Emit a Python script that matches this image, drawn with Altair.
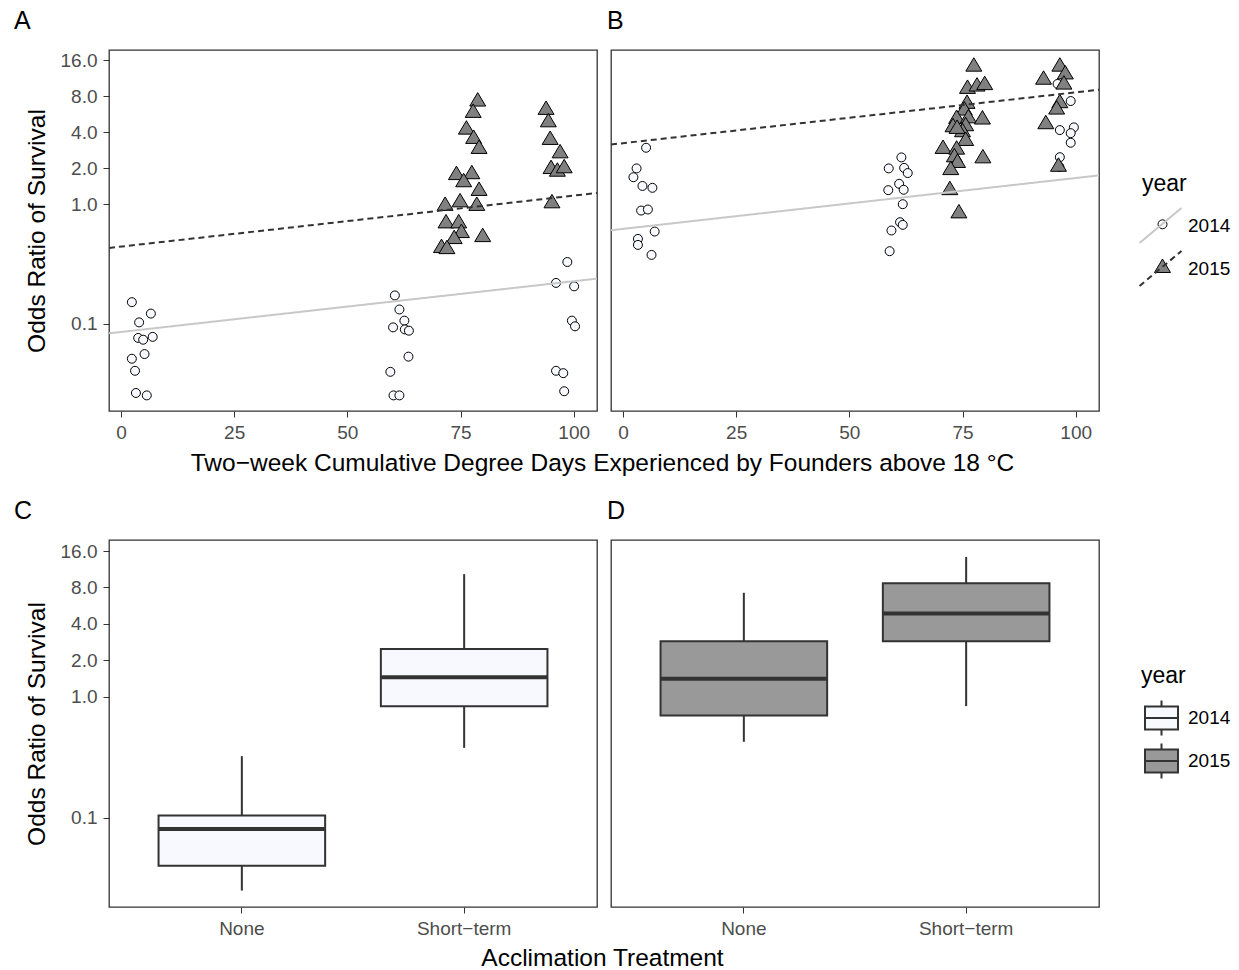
import altair as alt
import pandas as pd

FONT = "Liberation Sans"

# ---------------- Panel A (scatter) ----------------
a14_x = [2.4, 6.6, 4.0, 3.8, 4.9, 7.0, 5.2, 2.4, 3.1, 3.3, 5.7,
         60.5, 61.5, 62.6, 60.1, 62.7, 63.6, 63.5, 59.5, 60.2, 61.5,
         98.6, 96.1, 100.1, 99.6, 100.3, 96.1, 97.7, 97.9]
a14_y = [0.152, 0.122, 0.103, 0.0764, 0.0738, 0.078, 0.056, 0.0512, 0.0406, 0.0265, 0.0253,
         0.173, 0.132, 0.1065, 0.0936, 0.090, 0.0878, 0.0533, 0.0398, 0.0253, 0.0253,
         0.329, 0.220, 0.206, 0.1065, 0.0955, 0.0406, 0.0388, 0.0274]
a15_x = [78.8, 77.8, 76.3, 77.9, 79.1, 74.1, 77.5, 75.7, 79.1, 71.6, 74.9, 78.6,
         71.8, 74.6, 75.2, 73.6, 79.9, 70.8, 72.0,
         93.9, 94.4, 94.8, 97.0, 95.0, 96.4, 97.9, 95.2]
a15_y = [7.36, 5.92, 4.29, 3.59, 2.96, 1.79, 1.82, 1.56, 1.32, 0.99, 1.06, 0.99,
         0.707, 0.707, 0.587, 0.523, 0.543, 0.44, 0.431,
         6.27, 4.94, 3.52, 2.72, 2.01, 1.91, 2.04, 1.04]

# ---------------- Panel B (scatter) ----------------
b14_x = [5.1, 3.0, 2.3, 4.3, 6.5, 4.0, 5.5, 7.0, 3.3, 3.3, 6.3,
         61.5, 58.7, 62.1, 62.9, 61.0, 58.6, 62.0, 61.8, 61.2, 61.8, 59.3, 58.9,
         96.0, 98.9, 96.5, 99.6, 98.9, 98.9, 96.5, 96.4]
b14_y = [2.96, 1.99, 1.68, 1.42, 1.37, 0.885, 0.903, 0.591, 0.513, 0.457, 0.377,
         2.46, 1.99, 2.01, 1.82, 1.48, 1.31, 1.32, 1.0, 0.707, 0.672, 0.603, 0.405,
         10.1, 7.27, 4.16, 4.38, 3.92, 3.26, 2.47, 2.05]
b15_x = [77.5, 76.1, 78.2, 79.9, 76.0, 75.4, 73.7, 76.3, 79.4, 72.9, 75.7, 75.0,
         73.8, 75.7, 70.7, 73.7, 73.2, 79.5, 73.9, 72.4, 72.2, 74.2,
         96.5, 97.7, 92.9, 97.4, 96.5, 95.8, 93.4, 96.2]
b15_y = [14.4, 9.39, 9.82, 10.1, 7.04, 6.19, 5.27, 5.33, 5.21, 4.49, 4.58, 4.08,
         4.35, 3.45, 2.96, 2.92, 2.52, 2.47, 2.26, 1.97, 1.34, 0.857,
         14.4, 12.4, 11.2, 10.2, 7.13, 6.31, 4.76, 2.1]

# ---------------- fitted lines (end points) ----------------
fit_x = [-2.65, 105.15]
a_fit14 = [0.0835, 0.239]
a_fit15 = [0.431, 1.24]
b_fit14 = [0.606, 1.74]
b_fit15 = [3.15, 9.04]

# ---------------- box plots ----------------
treatments = ["None", "Short\u2212term"]
c_lo = [0.025, 0.378]
c_q1 = [0.0402, 0.836]
c_med = [0.0808, 1.45]
c_q3 = [0.1045, 2.48]
c_hi = [0.323, 10.3]
d_lo = [0.424, 0.836]
d_q1 = [0.70, 2.88]
d_med = [1.41, 4.88]
d_q3 = [2.88, 8.65]
d_hi = [7.23, 14.3]

years = ["2014", "2015"]
x_ticks = [0, 25, 50, 75, 100]
y_ticks = [0.1, 1, 2, 4, 8, 16]

XTITLE = "Two\u2212week Cumulative Degree Days Experienced by Founders above 18 \u00b0C"
YTITLE = "Odds Ratio of Survival"

CIRCLE = "M0.214,0A0.214,0.214,0,1,1,-0.214,0A0.214,0.214,0,1,1,0.214,0Z"
TRIANGLE = "M0,-0.37L0.38,0.27L-0.38,0.27Z"
DIAG = "M-1.217,1.014L1.217,-1.014"
BOXGLYPH = ("M-0.846,-0.59L0.846,-0.59L0.846,0.59L-0.846,0.59Z"
            "M-0.846,0L0.846,0M0,-0.59L0,-0.897M0,0.59L0,0.897")

W = 488
H_TOP = 361
H_BOT = 367


def label_layer(text, lx):
    return alt.Chart(pd.DataFrame({"t": [text]})).mark_text(
        align="left", baseline="alphabetic", fontSize=25, font=FONT, color="black"
    ).encode(x=alt.value(lx), y=alt.value(-21), text="t:N")


def scatter_panel(x14, y14, x15, y15, fit14, fit15, label, first, with_legend):
    pts = pd.DataFrame({
        "x": x14 + x15,
        "y": y14 + y15,
        "year": ["2014"] * len(x14) + ["2015"] * len(x15),
    })
    fits = pd.DataFrame({
        "x": fit_x + fit_x,
        "y": fit14 + fit15,
        "fit": ["2014", "2014", "2015", "2015"],
    })
    xscale = alt.Scale(domain=[-2.65, 105.15], nice=False, zero=False)
    yscale = alt.Scale(type="log", domain=[0.01874, 19.4], nice=False)
    if first:
        xaxis = alt.Axis(values=x_ticks, title=XTITLE, titleX=493, titleY=59,
                         titleBaseline="alphabetic", titleAlign="center")
        yaxis = alt.Axis(values=y_ticks, format=".1f", title=YTITLE, titleX=-65,
                         titleY=H_TOP / 2, titleBaseline="alphabetic", titleAlign="center",
                         titleAngle=270)
    else:
        xaxis = alt.Axis(values=x_ticks, title=None)
        yaxis = None

    if with_legend:
        # marker part of the legend (drawn under the line part, labels come from the line part)
        pt_leg = alt.Legend(title="year", orient="none", legendX=530, legendY=122.3,
                            direction="vertical", symbolSize=1764, symbolStrokeWidth=1,
                            rowPadding=10.5, labelOffset=3, titlePadding=7.5, padding=0,
                            titleOpacity=0, labelExpr="''", zindex=1)
        ln_leg = alt.Legend(title="year", orient="none", legendX=531, legendY=123,
                            direction="vertical", symbolType=DIAG, symbolSize=1190,
                            symbolStrokeWidth=2, rowPadding=0, labelOffset=9,
                            titlePadding=11, padding=0, zindex=2)
    else:
        pt_leg = None
        ln_leg = None

    points = alt.Chart(pts).mark_point(
        filled=True, size=1764, strokeWidth=1, opacity=1
    ).encode(
        x=alt.X("x:Q", scale=xscale, axis=xaxis),
        y=alt.Y("y:Q", scale=yscale, axis=yaxis),
        fill=alt.Fill("year:N", scale=alt.Scale(domain=years, range=["#F8F8FF", "#808080"]),
                      legend=pt_leg),
        shape=alt.Shape("year:N", scale=alt.Scale(domain=years, range=[CIRCLE, TRIANGLE]),
                        legend=pt_leg),
        stroke=alt.Stroke("year:N", scale=alt.Scale(domain=years, range=["#000000", "#000000"]),
                          legend=pt_leg),
    )
    # no explicit domain here so that this legend stays separate from the point legend
    lines = alt.Chart(fits).mark_line(strokeWidth=2, clip=True).encode(
        x=alt.X("x:Q", scale=xscale, axis=xaxis),
        y=alt.Y("y:Q", scale=yscale, axis=yaxis),
        color=alt.Color("fit:N", scale=alt.Scale(range=["#C8C8C8", "#333333"]),
                        legend=ln_leg),
        strokeDash=alt.StrokeDash("fit:N", scale=alt.Scale(range=[[1, 0], [6, 4]]),
                                  legend=ln_leg),
    )
    lx = -95 if first else -4
    return alt.layer(points, lines, label_layer(label, lx)).properties(width=W, height=H_TOP)


def box_panel(lo, q1, med, q3, hi, year, label, first, with_legend):
    df = pd.DataFrame({"treat": treatments, "lo": lo, "q1": q1, "med": med,
                       "q3": q3, "hi": hi, "year": [year, year]})
    xscale = alt.Scale(domain=treatments, paddingInner=0.2506, paddingOuter=0.2229)
    yscale = alt.Scale(type="log", domain=[0.0183, 19.73], nice=False)
    if first:
        xaxis = alt.Axis(title="Acclimation Treatment", labelAngle=0, titleX=493, titleY=58,
                         titleBaseline="alphabetic", titleAlign="center")
        yaxis = alt.Axis(values=y_ticks, format=".1f", title=YTITLE, titleX=-65,
                         titleY=H_BOT / 2, titleBaseline="alphabetic", titleAlign="center",
                         titleAngle=270)
    else:
        xaxis = alt.Axis(title=None, labelAngle=0)
        yaxis = None
    if with_legend:
        leg = alt.Legend(title="year", orient="none", legendX=530, legendY=125,
                         direction="vertical", symbolType=BOXGLYPH, symbolSize=1521,
                         symbolStrokeColor="#333333", symbolStrokeWidth=2,
                         rowPadding=0, labelOffset=6, titlePadding=9.5, padding=0)
    else:
        leg = None
    base = alt.Chart(df)
    whisk = base.mark_rule(color="#333333", strokeWidth=2).encode(
        x=alt.X("treat:N", scale=xscale, axis=xaxis, sort=treatments),
        y=alt.Y("lo:Q", scale=yscale, axis=yaxis),
        y2="hi:Q",
    )
    box = base.mark_bar(stroke="#333333", strokeWidth=2, opacity=1).encode(
        x=alt.X("treat:N", scale=xscale, axis=xaxis, sort=treatments),
        y=alt.Y("q1:Q", scale=yscale, axis=yaxis),
        y2="q3:Q",
        fill=alt.Fill("year:N", scale=alt.Scale(domain=years, range=["#F8F8FF", "#999999"]),
                      legend=leg),
    )
    medl = base.mark_tick(color="#333333", thickness=4, size=166, opacity=1).encode(
        x=alt.X("treat:N", scale=xscale, axis=xaxis, sort=treatments),
        y=alt.Y("med:Q", scale=yscale, axis=yaxis),
    )
    lx = -95 if first else -4
    return alt.layer(whisk, box, medl, label_layer(label, lx)).properties(width=W, height=H_BOT)


pA = scatter_panel(a14_x, a14_y, a15_x, a15_y, a_fit14, a_fit15, "A", True, False)
pB = scatter_panel(b14_x, b14_y, b15_x, b15_y, b_fit14, b_fit15, "B", False, True)
pC = box_panel(c_lo, c_q1, c_med, c_q3, c_hi, "2014", "C", True, False)
pD = box_panel(d_lo, d_q1, d_med, d_q3, d_hi, "2015", "D", False, True)

indep = dict(fill="independent", shape="independent", stroke="independent",
             strokeDash="independent", color="independent")

chart = alt.concat(
    pA, pB, pC, pD, columns=2, spacing={"row": 129, "column": 14}, bounds="flush"
).resolve_scale(**indep).properties(
    padding={"left": 13, "top": 8, "right": 2, "bottom": 2},
    background="white",
).configure_view(
    stroke="#333333", strokeWidth=1.3, fill="white"
).configure_axis(
    grid=False, domain=False,
    labelFont=FONT, labelFontSize=19, labelColor="#4D4D4D", labelPadding=6,
    tickColor="#333333", tickSize=6, tickWidth=1,
    titleFont=FONT, titleFontSize=24.5, titleColor="black", titleFontWeight="normal",
).configure_legend(
    labelFont=FONT, labelFontSize=19, labelColor="black",
    titleFont=FONT, titleFontSize=23, titleColor="black", titleFontWeight="normal",
)

chart.save("out.html", embed_options={"renderer": "svg", "actions": False})
